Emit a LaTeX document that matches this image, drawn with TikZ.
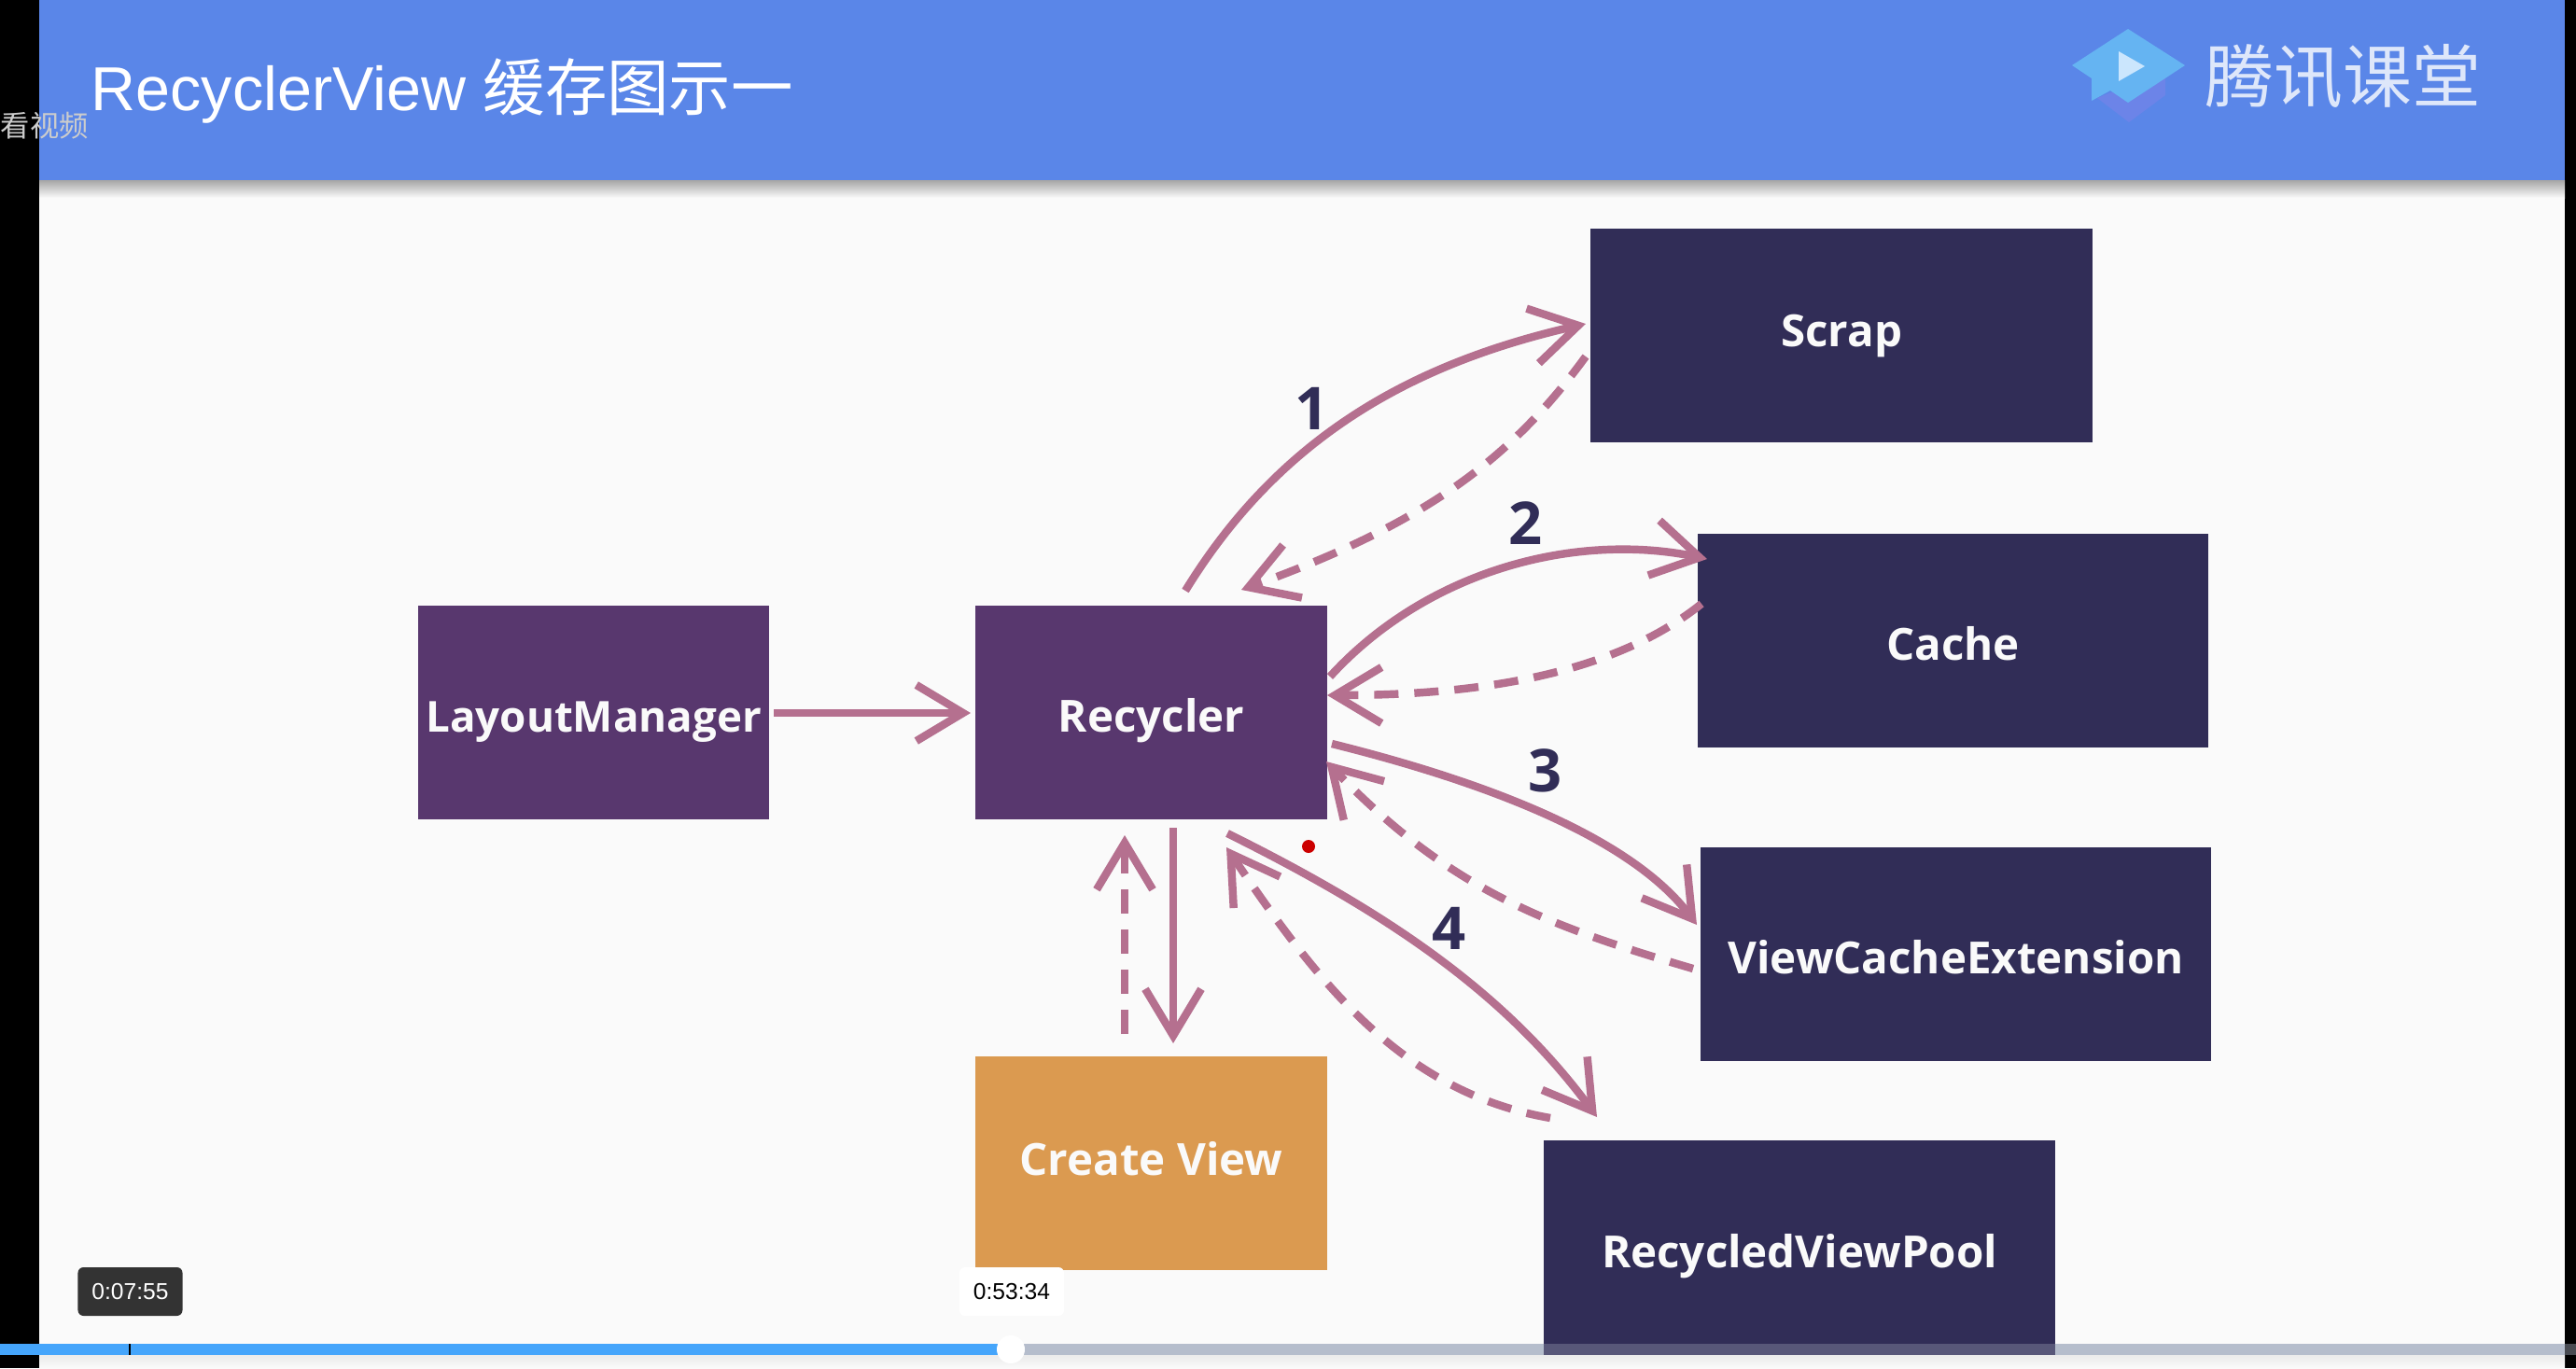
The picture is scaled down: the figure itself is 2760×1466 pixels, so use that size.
\documentclass[tikz,border=0pt]{standalone}
\usepackage{fontspec}
\setsansfont{Open Sans}
\setmainfont{Liberation Sans}
\newfontfamily\cjk{Noto Sans CJK SC}
\usepackage{xcolor}
\usetikzlibrary{arrows.meta,positioning}
\definecolor{headblue}{HTML}{5A86E8}
\definecolor{pagebg}{HTML}{FAFAFA}
\definecolor{plum}{HTML}{58376E}
\definecolor{navy}{HTML}{312D57}
\definecolor{amber}{HTML}{DB9A50}
\definecolor{rose}{HTML}{B5708F}
\definecolor{barblue}{HTML}{45A5FB}
\definecolor{bargrey}{HTML}{B5BDCC}
\definecolor{logosky}{HTML}{65B4F2}
\definecolor{logoback}{HTML}{6C84E8}
\definecolor{logoplay}{HTML}{CBE6FD}
\begin{document}
\begin{tikzpicture}[
        x=0.01cm, y=-0.01cm,
        box/.style={rectangle, inner sep=0pt, outer sep=0pt, text=pagebg, text depth=0pt, text height=0.42cm, font=\sffamily\bfseries\fontsize{13.5}{15}\selectfont},
        plumbox/.style={box, fill=plum, minimum width=3.76cm, minimum height=2.29cm},
        navybox/.style={box, fill=navy, minimum width=5.44cm, minimum height=2.29cm},
        arrow/.style={-{Straight Barb[length=0.5cm, width=0.6cm, line width=2.4pt]}, rose, line width=2.4pt},
        back/.style={arrow, dash pattern=on 0.26cm off 0.17cm},
        num/.style={text=navy, inner sep=0pt, font=\sffamily\bfseries\fontsize{18}{20}\selectfont},
        stamp/.style={rounded corners=0.06cm, minimum width=1.12cm, minimum height=0.52cm, inner sep=0pt, font=\fontsize{7}{9}\selectfont}
    ]
    \useasboundingbox (0,0) rectangle (2760,1466);
    % Page
    \fill[black] (0,0) rectangle (2760,1466);
    \fill[pagebg] (42,0) rectangle (2748,1466);
    \shade[top color=black!35, bottom color=pagebg] (42,193) rectangle (2748,212);
    \shade[top color=black!8, bottom color=pagebg] (42,1452) rectangle (2748,1466);
    \fill[headblue] (42,0) rectangle (2748,193);
    % Header
    \node[anchor=base west, inner sep=0pt, text=white, font=\fontsize{18.9}{21}\selectfont] (title) at (97,118) {RecyclerView {\cjk 缓存图示一}};
    \node[anchor=base west, inner sep=0pt, text=black!20, font=\cjk\fontsize{8.9}{10}\selectfont] (watch) at (0,146) {看视频};
    \fill[logoback] (2247,105) -- (2281,131) -- (2320,102) -- (2320,75) -- cycle;
    \fill[logosky] (2220,70) -- (2280,31) -- (2341,70) -- (2280,110) -- (2261,97) -- (2241,108) -- (2241,84) -- cycle;
    \fill[logoplay] (2270,55) -- (2298,71) -- (2270,87) -- cycle;
    \node[anchor=west, inner sep=0pt, text=white!80!headblue, font=\cjk\fontsize{21}{24}\selectfont] (brand) at (2362,82) {腾讯课堂};
    % Nodes
    \node[plumbox, font=\sffamily\bfseries\fontsize{13}{15}\selectfont, anchor=north west] (layout) at (448,648.5) {LayoutManager};
    \node[plumbox, right=2.21cm of layout] (recycler) {Recycler};
    \node[plumbox, fill=amber, text height=0.27cm, below=2.54cm of recycler] (create) {Create View};
    \node[navybox, minimum width=5.38cm, text height=0.23cm, anchor=north west] (scrap) at (1704,245) {Scrap};
    \node[navybox, minimum width=5.47cm, anchor=north west] (cache) at (1819,572) {Cache};
    \node[navybox, minimum width=5.47cm, anchor=north west] (extension) at (1822,908) {ViewCacheExtension};
    \node[navybox, minimum width=5.48cm, minimum height=2.30cm, anchor=north west] (pool) at (1654,1222) {RecycledViewPool};
    % Free ends
    \coordinate (la) at (829,764);
    \coordinate (lb) at (1040,764);
    \coordinate (ra) at (1270,633);
    \coordinate (rb) at (1699,347);
    \coordinate (rc) at (1699,382);
    \coordinate (rd) at (1330,632);
    \coordinate (ca) at (1425,725);
    \coordinate (cb) at (1829,599);
    \coordinate (cc) at (1823,647);
    \coordinate (cd) at (1422,745);
    \coordinate (ea) at (1427,797);
    \coordinate (eb) at (1818,991);
    \coordinate (ec) at (1814,1038);
    \coordinate (ed) at (1421,816);
    \coordinate (pa) at (1315,893);
    \coordinate (pb) at (1711,1197);
    \coordinate (pc) at (1661,1198);
    \coordinate (pd) at (1314,908);
    \coordinate (va) at (1257,887);
    \coordinate (vb) at (1257,1118);
    \coordinate (vc) at (1205,1108);
    \coordinate (vd) at (1205,895);
    % Arrows
    \draw[arrow] (la) -- (lb);
    \draw[arrow] (ra) .. controls (1370,470) and (1510,390) .. (rb);
    \draw[back] (rc) .. controls (1620,490) and (1530,560) .. (rd);
    \draw[arrow] (ca) .. controls (1530,610) and (1690,570) .. (cb);
    \draw[back] (cc) .. controls (1720,730) and (1560,745) .. (cd);
    \draw[arrow] (ea) .. controls (1600,840) and (1750,900) .. (eb);
    \draw[back] (ec) .. controls (1650,990) and (1550,950) .. (ed);
    \draw[arrow] (pa) .. controls (1480,975) and (1610,1060) .. (pb);
    \draw[back] (pc) .. controls (1500,1170) and (1410,1050) .. (pd);
    \draw[arrow] (va) -- (vb);
    \draw[back] (vc) -- (vd);
    % Numbers
    \node[num] (one) at (1406,438) {1};
    \node[num] (two) at (1635,561) {2};
    \node[num] (three) at (1656,826) {3};
    \node[num] (four) at (1553,995) {4};
    % Player
    \fill[red!80!black] (1402,907) circle (7);
    \fill[bargrey] (1083,1440) rectangle (2748,1452);
    \fill[navy, opacity=0.7] (1654,1440) rectangle (2202,1452);
    \fill[barblue] (0,1440) rectangle (1083,1452);
    \fill[black] (137.5,1440) rectangle (139.5,1452);
    \fill[bargrey!40!black] (2748,1440) rectangle (2760,1452);
    \fill[white] (1083,1446) circle (15);
    \node[stamp, fill=black!80, text=white] (now) at (139.5,1384) {0:07:55};
    \node[stamp, fill=white, text=black] (total) at (1084,1384) {0:53:34};
\end{tikzpicture}
\end{document}
